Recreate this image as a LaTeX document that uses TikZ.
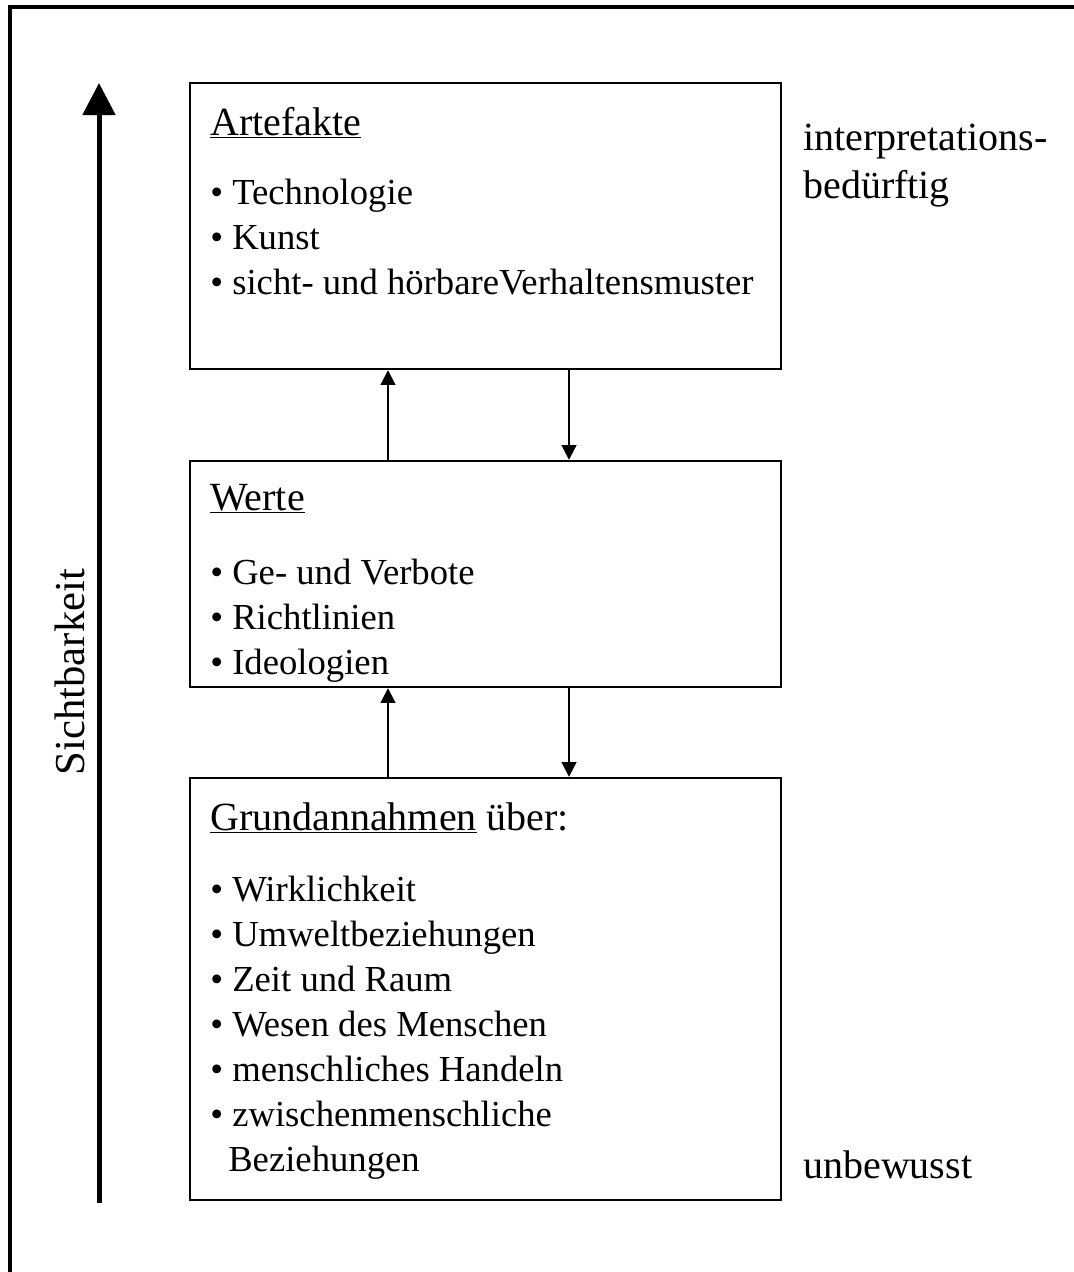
\documentclass[tikz,border=0pt]{standalone}
\usepackage{fontspec}
\setmainfont{Liberation Serif}
\usetikzlibrary{arrows.meta}
\begin{document}
\begin{tikzpicture}[x=0.75pt,y=-0.75pt,
  layer/.style={draw,line width=1.8pt,rectangle,minimum width=443.25pt,inner sep=0pt},
  txt/.style={anchor=base west,inner sep=0pt,font=\fontsize{27.5}{32}\selectfont},
  side/.style={anchor=base west,inner sep=0pt,font=\fontsize{30}{34}\selectfont},
  head/.style={anchor=base west,inner sep=0pt,font=\fontsize{30}{34}\selectfont},
  link/.style={line width=1.5pt,-{Triangle[length=11pt,width=11pt]}}]
\useasboundingbox (0,0) rectangle (1074,1272);
% frame
\draw[line width=2.6pt] (10,1272) -- (10,7) -- (1074,7);
% three layers
\node[layer,minimum height=214.5pt] (art) at (485.5,226) {};
\node[layer,minimum height=169.5pt] (wer) at (485.5,574) {};
\node[layer,minimum height=316.5pt] (grd) at (485.5,989) {};
% links between layers
\draw[link] (wer.north -| 388,0) -- (art.south -| 388,0);
\draw[link] (art.south -| 569,0) -- (wer.north -| 569,0);
\draw[link] (grd.north -| 388,0) -- (wer.south -| 388,0);
\draw[link] (wer.south -| 569,0) -- (grd.north -| 569,0);
% visibility axis
\coordinate (vlo) at (99,1203);
\coordinate (vhi) at (99,83);
\draw[line width=3.75pt,-{Triangle[length=24pt,width=24pt]}] (vlo) -- (vhi);
\node[rotate=90,inner sep=0pt,font=\fontsize{32}{36}\selectfont] (sicht) at (70,672) {Sichtbarkeit};
% Artefakte
\node[head] (t1) at (210,135) {\underline{Artefakte}};
\node[txt] (a1) at (210,204) {• Technologie};
\node[txt] (a2) at (210,249) {• Kunst};
\node[txt] (a3) at (210,294) {• sicht- und hörbareVerhaltensmuster};
% Werte
\node[head] (t2) at (210,510) {\underline{Werte}};
\node[txt] (w1) at (210,584) {• Ge- und Verbote};
\node[txt] (w2) at (210,629) {• Richtlinien};
\node[txt] (w3) at (210,674) {• Ideologien};
% Grundannahmen
\node[head] (t3) at (210,830) {\underline{Grundannahmen} über:};
\node[txt] (g1) at (210,901) {• Wirklichkeit};
\node[txt] (g2) at (210,946) {• Umweltbeziehungen};
\node[txt] (g3) at (210,991) {• Zeit und Raum};
\node[txt] (g4) at (210,1036) {• Wesen des Menschen};
\node[txt] (g5) at (210,1081) {• menschliches Handeln};
\node[txt] (g6) at (210,1126) {• zwischenmenschliche};
\node[txt] (g7) at (228,1171) {Beziehungen};
% side labels
\node[side] (s1) at (803,150) {interpretations-};
\node[side] (s2) at (803,198) {bedürftig};
\node[side] (s3) at (803,1178) {unbewusst};
\end{tikzpicture}
\end{document}
